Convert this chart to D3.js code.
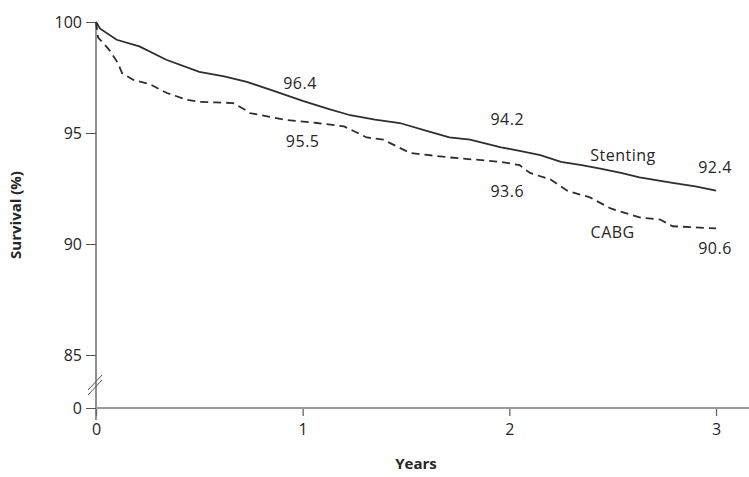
<!DOCTYPE html>
<html>
<head>
<meta charset="utf-8">
<script src="https://cdn.jsdelivr.net/npm/d3@7"></script>
<style>
  body { margin: 0; background: #fff; }
  svg { display: block; }
  text { font-family: "Open Sans", sans-serif; fill: #262626; }
</style>
</head>
<body>
<svg id="chart"></svg>
<script>
// Kaplan-Meier curves (years, survival %)
const stentYears = [0, 0.02, 0.10, 0.21, 0.34, 0.50, 0.62, 0.73, 0.86, 1.0, 1.12, 1.23, 1.35, 1.47, 1.60, 1.71, 1.81, 1.96, 2.05, 2.15, 2.25, 2.35, 2.44, 2.54, 2.63, 2.79, 2.90, 3.0];
const stentSurv  = [100, 99.7, 99.2, 98.9, 98.3, 97.75, 97.55, 97.3, 96.9, 96.45, 96.1, 95.8, 95.6, 95.45, 95.1, 94.8, 94.7, 94.35, 94.2, 94.0, 93.7, 93.55, 93.4, 93.2, 93.0, 92.75, 92.6, 92.4];
const cabgYears  = [0, 0.01, 0.04, 0.068, 0.106, 0.126, 0.179, 0.261, 0.343, 0.44, 0.503, 0.58, 0.663, 0.73, 0.744, 0.91, 1.07, 1.2, 1.31, 1.39, 1.52, 1.71, 1.96, 2.05, 2.10, 2.20, 2.28, 2.39, 2.49, 2.63, 2.73, 2.79, 3.0];
const cabgSurv   = [100, 99.3, 99.0, 98.7, 98.15, 97.7, 97.4, 97.2, 96.8, 96.5, 96.4, 96.38, 96.35, 96.0, 95.9, 95.6, 95.45, 95.3, 94.8, 94.7, 94.1, 93.9, 93.7, 93.55, 93.2, 92.9, 92.4, 92.1, 91.6, 91.2, 91.1, 90.8, 90.7];

const xTicks = [0, 1, 2, 3];
const yTicks = [0, 85, 90, 95, 100];

// annotation texts and where they sit (years, axis value)
const noteText  = ["96.4", "95.5", "94.2", "93.6", "Stenting", "92.4", "CABG", "90.6"];
const noteYears = [0.987, 1.0, 1.99, 1.99, 2.55, 2.995, 2.50, 2.995];
const noteVals  = [97.25, 94.6, 95.6, 92.35, 94.0, 93.47, 90.54, 89.82];

const W = 749, H = 477;
const svg = d3.select("#chart").attr("width", W).attr("height", H);

const x = d3.scaleLinear().domain([0, 3]).range([96, 716]);
// broken axis: 0 sits just under 85
const y = d3.scaleLinear().domain([0, 85, 100]).range([408, 355, 22]);

const ink = "#2e2e2e";

// y axis
const yAxis = svg.append("g")
  .attr("transform", "translate(" + x(0) + ",0)")
  .call(d3.axisLeft(y).tickValues(yTicks).tickSize(10).tickPadding(4));
yAxis.select(".domain").remove();
yAxis.selectAll("line").attr("stroke", "#555");
yAxis.selectAll("text").style("font-size", "16px").style("font-family", "Open Sans").attr("fill", "#262626");
svg.append("line")
  .attr("x1", x(0)).attr("x2", x(0))
  .attr("y1", y(100)).attr("y2", 420)
  .attr("stroke", "#555").attr("stroke-width", 1.3);

// break marks
[0, 5].forEach(function(off) {
  svg.append("line")
    .attr("x1", x(0) - 8).attr("y1", 395 - off)
    .attr("x2", x(0) + 6).attr("y2", 380 - off)
    .attr("stroke", "#555").attr("stroke-width", 1);
});

// x axis
const xAxis = svg.append("g")
  .attr("transform", "translate(0," + y(0) + ")")
  .call(d3.axisBottom(x).tickValues(xTicks).tickSize(8).tickPadding(8).tickFormat(d3.format("d")));
xAxis.select(".domain").remove();
xAxis.selectAll("line").attr("stroke", "#666").attr("stroke-width", 1.3);
xAxis.selectAll("text").style("font-size", "16px").style("font-family", "Open Sans").attr("fill", "#262626");
svg.append("line")
  .attr("x1", x(0)).attr("x2", W)
  .attr("y1", y(0)).attr("y2", y(0))
  .attr("stroke", "#999").attr("stroke-width", 2.2);

// axis titles
svg.append("text")
  .attr("x", 416).attr("y", 469)
  .attr("text-anchor", "middle")
  .style("font-size", "15px").style("font-weight", "bold")
  .text("Years");
svg.append("text")
  .attr("transform", "translate(21,215) rotate(-90)")
  .attr("text-anchor", "middle")
  .style("font-size", "15px").style("font-weight", "bold")
  .text("Survival (%)");

// curves
const line = d3.line()
  .x(function(d) { return x(d[0]); })
  .y(function(d) { return y(d[1]); });

svg.append("path")
  .datum(d3.zip(stentYears, stentSurv))
  .attr("fill", "none")
  .attr("stroke", ink)
  .attr("stroke-width", 1.8)
  .attr("d", line);

svg.append("path")
  .datum(d3.zip(cabgYears, cabgSurv))
  .attr("fill", "none")
  .attr("stroke", ink)
  .attr("stroke-width", 1.8)
  .attr("stroke-dasharray", "8,5")
  .attr("d", line);

// annotations
svg.selectAll(".note")
  .data(d3.range(noteText.length))
  .enter()
  .append("text")
  .attr("class", "note")
  .attr("x", function(i) { return x(noteYears[i]); })
  .attr("y", function(i) { return y(noteVals[i]); })
  .attr("dy", "0.35em")
  .attr("text-anchor", "middle")
  .style("font-size", "16px")
  .style("letter-spacing", "0.5px")
  .text(function(i) { return noteText[i]; });
</script>
</body>
</html>
